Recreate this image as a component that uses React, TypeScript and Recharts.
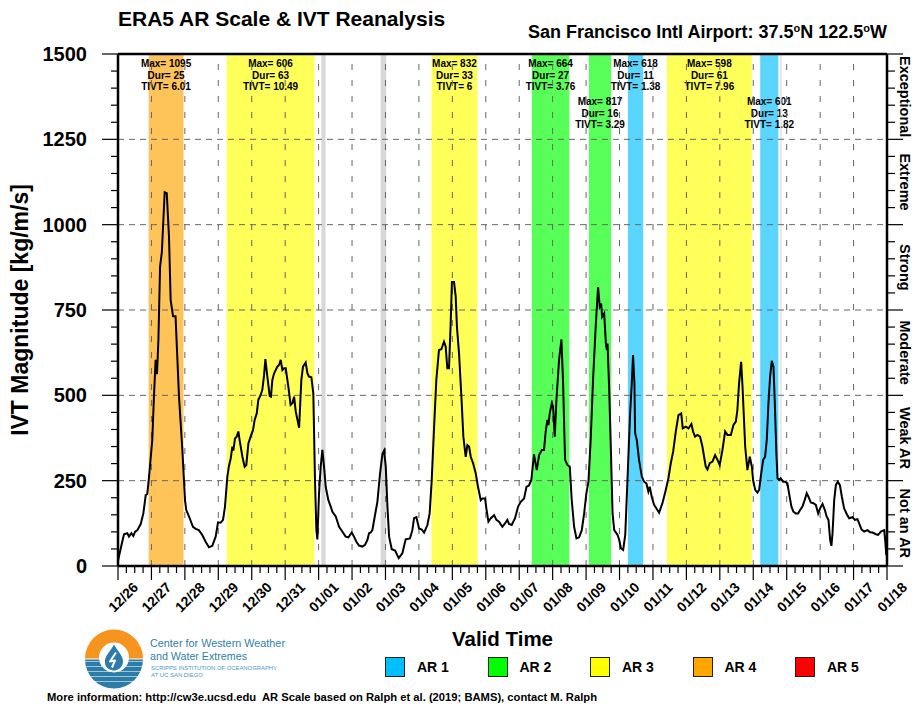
import React from "react";
import {
  LineChart,
  Line,
  XAxis,
  YAxis,
  ReferenceArea,
  ReferenceLine,
  Legend,
} from "recharts";

// hours since 12/26 00Z and IVT (kg/m/s)
const ivtHour = [
  0, 2, 4.3, 6.7, 7.9, 9.6, 11, 12.2, 13.9, 16.3, 18.2, 19.9, 21, 22.3, 24.6, 25.8, 27, 28, 29, 30.2,
  31.5, 33.5, 35, 36.6, 37.8, 39.5, 41.3, 43.8, 46.2, 48.1, 49, 51, 53.8, 55.8, 58, 60.5, 62.9, 65.3,
  67.7, 70.1, 71.8, 73.7, 75.4, 76.8, 78.5, 79.7, 80.9, 82.1, 82.8, 84, 85.2, 86.4, 87.3, 89.3, 90.9,
  92.1, 93.6, 95.2, 96.9, 98.1, 99.6, 100.7, 102.4, 103.6, 104.8, 105.8, 107.2, 108.9, 109.8, 110.8,
  112, 114.4, 115.6, 116.8, 118, 119.2, 120.4, 122.3, 123.9, 125.2, 126.4, 127.6, 130, 131.6, 132.8,
  134.7, 136, 137.1, 138.8, 140.2, 141.4, 142.4, 143.1, 144.3, 145.5, 146.7, 147.9, 149.1, 151, 152.7,
  153.9, 156.3, 158.7, 161, 163.4, 165.4, 167.8, 169.4, 171.1, 173, 175.4, 177.3, 179, 180.2, 181.4,
  182.6, 184.3, 186.2, 188.1, 189.8, 191, 192.2, 193.4, 194.6, 196.5, 198.9, 201.5, 204.1, 206.5,
  209.6, 211.3, 212.5, 214.2, 216.1, 218, 219.7, 222.1, 223.7, 225.2, 226.9, 228.5, 230.4, 232.1, 234,
  235.2, 236.4, 237.6, 238.8, 239.7, 241.2, 242.4, 243.3, 244.8, 246.5, 247.9, 249.6, 250.8, 252,
  253.2, 254.9, 256.8, 258.4, 260.4, 261.6, 263.5, 264.4, 265.9, 267.6, 270, 271.6, 273.5, 275.9,
  277.8, 279.5, 280.7, 282.6, 285, 287.2, 289.1, 291.5, 293.2, 295, 296.7, 298.6, 300.6, 302.3, 304.2,
  305.8, 307, 308.2, 309, 309.9, 311.4, 312.3, 313.5, 314.7, 316.6, 318.3, 319.5, 320.9, 322.6, 324.3,
  325.7, 327.4, 329.1, 331, 332.9, 334.6, 336.2, 337.7, 339.3, 341, 342.9, 344.6, 345.8, 346.8, 347.5,
  349, 350.2, 350.9, 351.4, 352.6, 353.8, 355, 356.2, 358.6, 359.8, 361, 362.6, 364.1, 365.7, 367.6,
  368.8, 369.7, 370.7, 371.2, 372.4, 374, 376, 377.6, 379.3, 380.7, 381.7, 383.1, 384.8, 386.4, 388.4,
  390.8, 393.2, 395.1, 396.8, 398.5, 400.4, 402.3, 404.3, 405.4, 407.6, 409.5, 411.6, 412.8, 414.2,
  415.9, 417.8, 419.5, 420.7, 421.9, 423.1, 424.8, 426.7, 428.6, 430.3, 431.9, 433.9, 435.8, 437.5,
  439.9, 441.8, 443.5, 444.6, 445.8, 447.3, 448.3, 450.2, 451.8, 453.5, 455, 455.9, 457.4, 459, 460.2,
  461.4, 463.1, 464.5, 465.7, 466.9, 468.1, 469.3, 470.5, 471.4, 472.6, 473.4, 474.6, 475.7, 477.4,
  478.9, 480.5, 481.7, 483.4, 484.8, 486.5, 488.2, 489.6, 491.3, 492.9, 494.4, 495.6, 497.3, 499.2,
  500.9, 502.6, 504, 505.7, 507.4, 508.6, 510, 511.2, 512.1, 512.9, 514.1, 515.3, 516.7, 518.2, 519.6,
  521.2, 522.9, 524.8, 527.2, 528.9, 530.8, 532, 533.7, 535.6, 538, 539.9, 541.6, 544, 545.6, 547.6,
  550, 550.7, 551.5,
];
const ivtValue = [
  15, 52, 93, 96, 86, 96, 88, 100, 105, 123, 154, 208, 211, 262, 369, 496, 604, 562, 662, 877,
  920, 1095, 1092, 965, 779, 732, 732, 496, 340, 193, 164, 145, 115, 109, 105, 91, 71, 55,
  59, 86, 128, 127, 135, 174, 262, 294, 315, 350, 338, 374, 379, 394, 369, 320, 291,
  296, 359, 379, 398, 428, 447, 486, 501, 516, 557, 606, 555, 498, 496, 545,
  564, 584, 589, 604, 574, 579, 579, 525, 472, 477, 496, 452, 405, 545, 584,
  596, 564, 555, 553, 506, 252, 105, 78, 213, 291, 340, 291, 232, 193, 174,
  159, 145, 115, 101, 86, 84, 98, 86, 71, 60, 57, 62, 76, 96, 98,
  105, 145, 188, 271, 328, 338, 291, 174, 86, 49, 45, 23, 37, 78,
  81, 105, 140, 143, 110, 107, 98, 120, 154, 252, 408, 545, 633, 635, 657,
  643, 579, 579, 711, 832, 832, 790, 700, 623, 496, 379, 320, 354, 350,
  320, 301, 271, 232, 193, 198, 198, 169, 130, 140, 149, 135, 130, 115,
  125, 135, 123, 120, 140, 174, 188, 198, 232, 236, 252, 327, 281, 325, 340,
  340, 394, 428, 413, 447, 477, 467, 379, 486, 604, 664, 535, 311, 296, 291,
  193, 115, 81, 84, 105, 154, 213, 247, 369, 545, 701, 817, 760, 769, 730,
  740, 652, 633, 652, 516, 340, 154, 105, 91, 76, 52, 47, 91, 252, 447,
  535, 618, 535, 389, 369, 311, 262, 247, 242, 218, 232, 203, 179, 169, 156,
  184, 223, 257, 301, 335, 394, 442, 447, 403, 408, 403, 416, 394, 379,
  384, 379, 350, 320, 291, 283, 301, 306, 325, 311, 296, 340, 394, 384,
  384, 413, 423, 457, 535, 598, 525, 350, 281, 320, 291, 252, 223, 215, 223,
  262, 311, 320, 369, 477, 555, 601, 584, 486, 330, 257, 252, 257, 247,
  247, 242, 213, 174, 159, 154, 154, 164, 174, 193, 213, 203, 186, 184,
  179, 154, 169, 182, 164, 146, 135, 76, 59, 96, 193, 237, 247, 237, 203,
  169, 154, 140, 143, 135, 137, 125, 107, 101, 105, 99, 98, 93, 91, 101,
  105, 76, 32,
];

const dayLabels = [
  "12/26", "12/27", "12/28", "12/29", "12/30", "12/31", "01/01", "01/02", "01/03", "01/04", "01/05", "01/06",
  "01/07", "01/08", "01/09", "01/10", "01/11", "01/12", "01/13", "01/14", "01/15", "01/16", "01/17", "01/18",
];

// AR events (hours), category and the stats printed on top
const arStart = [22, 78, 225, 297, 338, 366, 394, 461];
const arEnd = [47, 141, 258, 324, 354, 377, 455, 474];
const arCat = [4, 3, 3, 2, 2, 1, 3, 1];
const arMax = [1095, 606, 832, 664, 817, 618, 598, 601];
const arDur = [25, 63, 33, 27, 16, 11, 61, 13];
const arTivt = ["6.01", "10.49", "6", "3.76", "3.29", "1.38", "7.96", "1.82"];
const arRow = [0, 0, 0, 0, 1, 0, 0, 1];

// short IVT>250 spells that are not ARs
const grayStart = [146, 188.5, 475.5];
const grayEnd = [149, 192.5, 476.3];

const scaleValues = [125, 375, 625, 875, 1125, 1375];
const scaleNames = ["Not an AR", "Weak AR", "Moderate", "Strong", "Extreme", "Exceptional"];

const legendNames = ["AR 1", "AR 2", "AR 3", "AR 4", "AR 5"];
const legendColors = ["#00BFFF", "#00FF00", "#FFFF00", "#FFA500", "#FF0000"];

const data = ivtHour.map((h, i) => ({ hour: h, ivt: ivtValue[i] }));

const xTicks = Array.from({ length: 93 }, (_, i) => i * 6);
const dayHours = Array.from({ length: 22 }, (_, i) => (i + 1) * 24);
const yTicks = Array.from({ length: 31 }, (_, i) => i * 50);
const yGrid = [250, 500, 750, 1000, 1250];
const rightTicks = [...yTicks, ...scaleValues].sort((a, b) => a - b);

const FONT = "'Liberation Sans', Arial, Helvetica, sans-serif";

function TimeTick(props: any) {
  const { x, y, payload } = props;
  const h = payload.value;
  const major = h % 24 === 0;
  const cx = x + 5;
  const cy = y + 31;
  return (
    <g>
      <line x1={x} x2={x} y1={y} y2={y + (major ? 14 : 7)} stroke="#000" strokeWidth={1.2} />
      {major && (
        <text
          x={cx}
          y={cy}
          transform={`rotate(-45 ${cx} ${cy})`}
          textAnchor="middle"
          dominantBaseline="central"
          fontFamily={FONT}
          fontWeight="bold"
          fontSize={14}
          fill="#000"
        >
          {dayLabels[h / 24]}
        </text>
      )}
    </g>
  );
}

function LeftTick(props: any) {
  const { x, y, payload } = props;
  const major = payload.value % 250 === 0;
  return (
    <g>
      <line x1={x} x2={x - (major ? 16 : 7)} y1={y} y2={y} stroke="#000" strokeWidth={1.2} />
      {major && (
        <text
          x={x - 31}
          y={y}
          textAnchor="end"
          dominantBaseline="central"
          fontFamily={FONT}
          fontWeight="bold"
          fontSize={20}
          fill="#000"
        >
          {payload.value}
        </text>
      )}
    </g>
  );
}

function RightTick(props: any) {
  const { x, y, payload } = props;
  const k = scaleValues.indexOf(payload.value);
  if (k >= 0) {
    const tx = x + 18;
    return (
      <text
        x={tx}
        y={y}
        transform={`rotate(90 ${tx} ${y})`}
        textAnchor="middle"
        dominantBaseline="central"
        fontFamily={FONT}
        fontWeight="bold"
        fontSize={14.5}
        fill="#000"
      >
        {scaleNames[k]}
      </text>
    );
  }
  const major = payload.value % 250 === 0;
  return <line x1={x} x2={x + (major ? 16 : 8)} y1={y} y2={y} stroke="#000" strokeWidth={1.2} />;
}

function bandFill(cat: number) {
  return legendColors[cat - 1];
}

function renderBandLabel(p: any, i: number) {
  const vb = p.viewBox;
  const cx = vb.x + vb.width / 2;
  const top = vb.y + 13 + arRow[i] * 38;
  const lines = [`Max= ${arMax[i]}`, `Dur= ${arDur[i]}`, `TIVT= ${arTivt[i]}`];
  return (
    <text textAnchor="middle" fontFamily={FONT} fontWeight="bold" fontSize={10} fill="#000">
      {lines.map((s, j) => (
        <tspan key={j} x={cx} y={top + j * 11.5}>
          {s}
        </tspan>
      ))}
    </text>
  );
}

function renderLegend() {
  return (
    <div style={{ display: "flex" }}>
      {legendNames.map((name, i) => (
        <div key={name} style={{ width: 102.5, display: "flex", alignItems: "center" }}>
          <div
            style={{
              width: 18,
              height: 18,
              background: legendColors[i],
              border: "1.5px solid #222",
            }}
          />
          <span style={{ marginLeft: 12, font: `bold 14px ${FONT}`, color: "#000" }}>{name}</span>
        </div>
      ))}
    </div>
  );
}

function Logo() {
  const cx = 114;
  const cy = 658.5;
  const stripes = [3, 8, 13, 18, 23];
  return (
    <g>
      <path d={`M ${cx - 29} ${cy} A 29 29 0 0 1 ${cx + 29} ${cy} Z`} fill="#F7941D" />
      <path d={`M ${cx - 29} ${cy + 1} A 29 29 0 0 0 ${cx + 29} ${cy + 1} Z`} fill="#2B7DA8" />
      {stripes.map((s) => (
        <line key={s} x1={cx - 30} x2={cx + 30} y1={cy + s} y2={cy + s} stroke="#fff" strokeWidth={0.8} opacity={0.7} />
      ))}
      <circle cx={cx} cy={cy - 1} r={15} fill="#fff" />
      <path
        d={`M ${cx} ${cy - 14} C ${cx + 3} ${cy - 8} ${cx + 10} ${cy - 2} ${cx + 9} ${cy + 4} C ${cx + 8} ${cy + 10} ${cx + 3} ${cy + 12} ${cx} ${cy + 12} C ${cx - 3} ${cy + 12} ${cx - 9} ${cy + 10} ${cx - 9} ${cy + 4} C ${cx - 10} ${cy - 2} ${cx - 3} ${cy - 8} ${cx} ${cy - 14} Z`}
        fill="#2B7DA8"
      />
      <path
        d={`M ${cx + 2} ${cy - 6} L ${cx - 4} ${cy + 3} L ${cx + 1} ${cy + 2} L ${cx - 2} ${cy + 9}`}
        fill="none"
        stroke="#fff"
        strokeWidth={2}
        strokeLinejoin="round"
      />
      <text x={150} y={647} fontFamily={FONT} fontSize={10.5} fill="#2F7FAA" textLength={135} lengthAdjust="spacingAndGlyphs">
        Center for Western Weather
      </text>
      <text x={150} y={659.5} fontFamily={FONT} fontSize={10.5} fill="#2F7FAA" textLength={97} lengthAdjust="spacingAndGlyphs">
        and Water Extremes
      </text>
      <text x={151} y={670} fontFamily={FONT} fontSize={5.5} fill="#4A9BC4" textLength={126} lengthAdjust="spacingAndGlyphs">
        SCRIPPS INSTITUTION OF OCEANOGRAPHY
      </text>
      <text x={151} y={677} fontFamily={FONT} fontSize={5.5} fill="#4A9BC4" textLength={52} lengthAdjust="spacingAndGlyphs">
        AT UC SAN DIEGO
      </text>
    </g>
  );
}

export default function App() {
  return (
    <div style={{ position: "absolute", left: 0, top: 0, width: 922, height: 715, background: "#fff" }}>
      <LineChart
        width={922}
        height={715}
        data={data}
        margin={{ top: 53, right: 34, bottom: 148, left: 117 }}
      >
        {arStart.map((s, i) => (
          <ReferenceArea
            key={`ar${i}`}
            yAxisId="left"
            x1={s}
            x2={arEnd[i]}
            fill={bandFill(arCat[i])}
            fillOpacity={0.65}
            stroke="none"
            label={(p: any) => renderBandLabel(p, i)}
          />
        ))}
        {grayStart.map((s, i) => (
          <ReferenceArea key={`g${i}`} yAxisId="left" x1={s} x2={grayEnd[i]} fill="#D8D8D8" fillOpacity={1} stroke="none" />
        ))}
        {yGrid.map((v) => (
          <ReferenceLine key={`hy${v}`} yAxisId="left" y={v} stroke="#666" strokeDasharray="6 5" strokeWidth={1} />
        ))}
        {dayHours.map((h) => (
          <ReferenceLine key={`vx${h}`} yAxisId="left" x={h} stroke="#666" strokeDasharray="6 10" strokeWidth={1} />
        ))}
        <XAxis
          dataKey="hour"
          type="number"
          domain={[0, 552]}
          ticks={xTicks}
          interval={0}
          height={1}
          tickSize={0}
          tickMargin={0}
          tick={<TimeTick />}
          axisLine={{ stroke: "#000", strokeWidth: 2.5 }}
          label={(p: any) => (
            <text
              x={p.viewBox.x + p.viewBox.width / 2}
              y={p.viewBox.y + 72}
              textAnchor="middle"
              dominantBaseline="central"
              fontFamily={FONT}
              fontWeight="bold"
              fontSize={20.5}
              fill="#000"
            >
              Valid Time
            </text>
          )}
        />
        <XAxis
          xAxisId="top"
          orientation="top"
          type="number"
          dataKey="hour"
          domain={[0, 552]}
          height={1}
          tick={false}
          tickLine={false}
          axisLine={{ stroke: "#000", strokeWidth: 2.5 }}
        />
        <YAxis
          yAxisId="left"
          type="number"
          domain={[0, 1500]}
          ticks={yTicks}
          interval={0}
          width={1}
          tickSize={0}
          tickMargin={0}
          tick={<LeftTick />}
          axisLine={{ stroke: "#000", strokeWidth: 2.5 }}
          label={(p: any) => (
            <text
              x={20}
              y={p.viewBox.y + p.viewBox.height / 2}
              transform={`rotate(-90 20 ${p.viewBox.y + p.viewBox.height / 2})`}
              textAnchor="middle"
              dominantBaseline="central"
              fontFamily={FONT}
              fontWeight="bold"
              fontSize={23}
              fill="#000"
            >
              IVT Magnitude [kg/m/s]
            </text>
          )}
        />
        <YAxis
          yAxisId="right"
          orientation="right"
          type="number"
          domain={[0, 1500]}
          ticks={rightTicks}
          interval={0}
          width={1}
          tickSize={0}
          tickMargin={0}
          tick={<RightTick />}
          axisLine={{ stroke: "#000", strokeWidth: 2.5 }}
        />
        {/* carries the AR-scale axis on the right; not drawn */}
        <Line
          xAxisId="top"
          yAxisId="right"
          type="linear"
          dataKey="ivt"
          stroke="none"
          dot={false}
          activeDot={false}
          legendType="none"
          isAnimationActive={false}
        />
        <Line
          yAxisId="left"
          type="linear"
          dataKey="ivt"
          stroke="#000"
          strokeWidth={2}
          dot={false}
          isAnimationActive={false}
        />
        <Legend
          verticalAlign="middle"
          align="center"
          layout="horizontal"
          content={renderLegend}
          wrapperStyle={{ position: "absolute", left: 385, top: 657, width: 520, height: 22 }}
        />
      </LineChart>
      <svg
        width={922}
        height={715}
        style={{ position: "absolute", left: 0, top: 0, pointerEvents: "none" }}
      >
        <text x={118} y={26} fontFamily={FONT} fontWeight="bold" fontSize={21} fill="#000">
          ERA5 AR Scale &amp; IVT Reanalysis
        </text>
        <text x={887} y={38} textAnchor="end" fontFamily={FONT} fontWeight="bold" fontSize={18} fill="#000">
          San Francisco Intl Airport: 37.5
          <tspan dy={-6} fontSize={11}>o</tspan>
          <tspan dy={6}>N 122.5</tspan>
          <tspan dy={-6} fontSize={11}>o</tspan>
          <tspan dy={6}>W</tspan>
        </text>
        <Logo />
        <text
          x={47}
          y={700.5}
          fontFamily={FONT}
          fontWeight="bold"
          fontSize={10.8}
          fill="#000"
          textLength={550}
          lengthAdjust="spacingAndGlyphs"
          style={{ whiteSpace: "pre" }}
        >
          {"More information: http://cw3e.ucsd.edu  AR Scale based on Ralph et al. (2019; BAMS), contact M. Ralph"}
        </text>
      </svg>
    </div>
  );
}
